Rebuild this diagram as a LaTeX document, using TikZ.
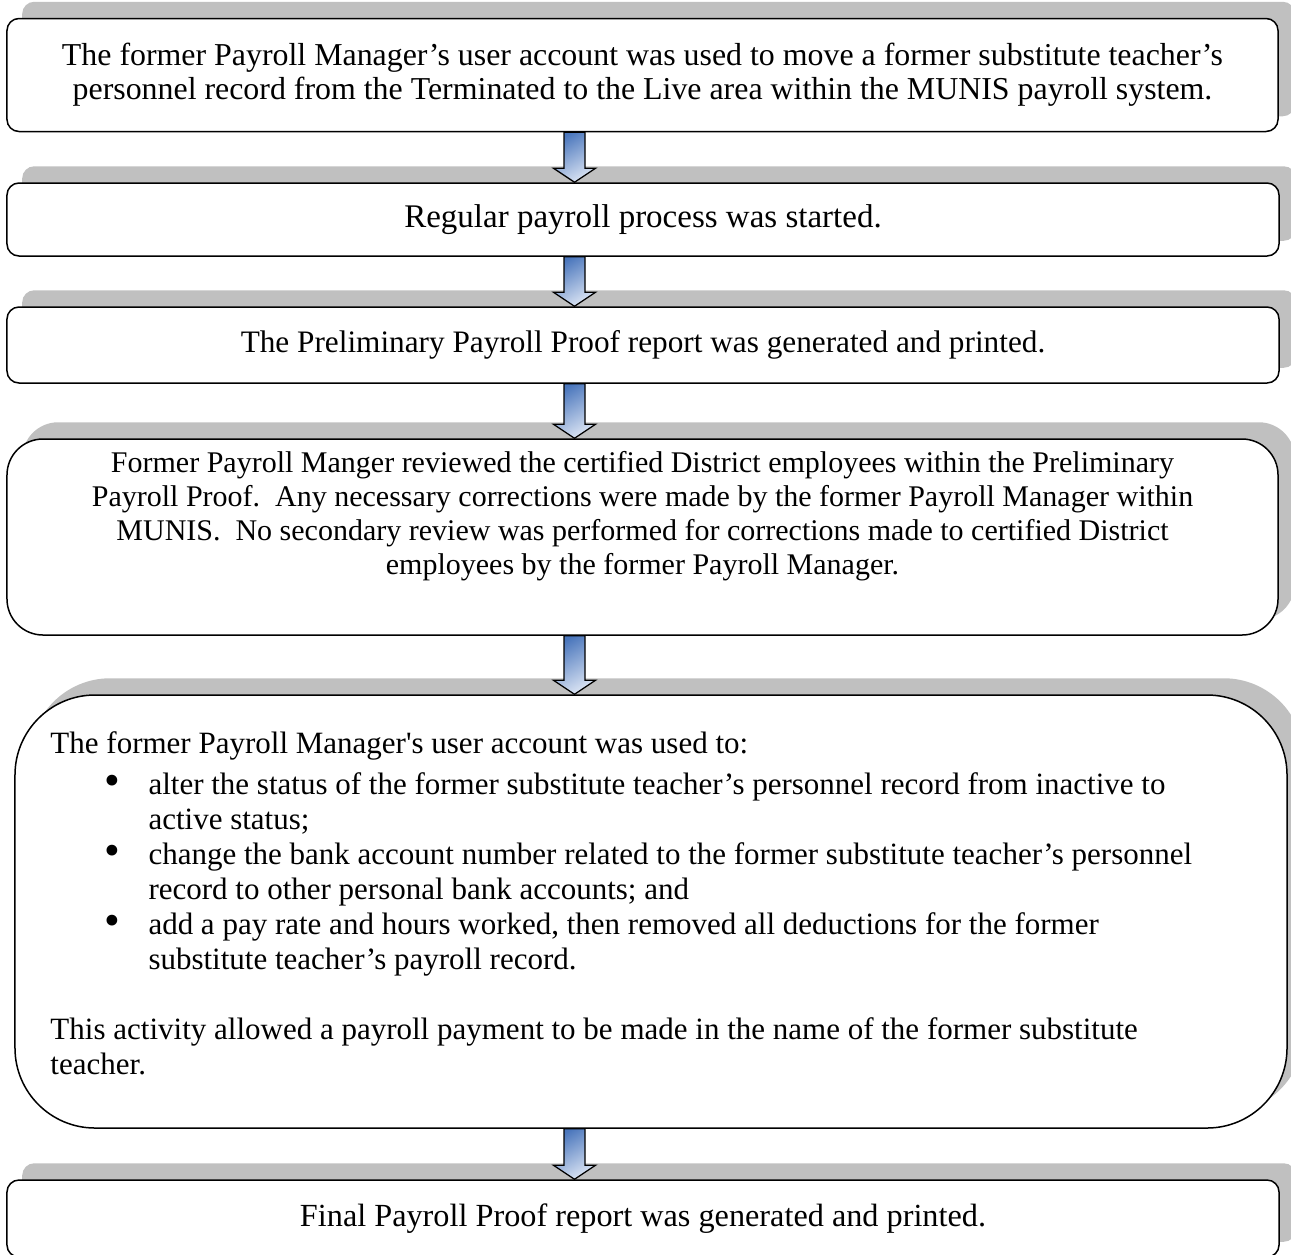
\documentclass[tikz,border=0pt]{standalone}
\usepackage{fontspec}
\usepackage{graphicx}
\setmainfont{Liberation Serif}
\usetikzlibrary{calc,backgrounds}
\definecolor{shadowgray}{HTML}{C0C0C0}
\definecolor{arrowdark}{HTML}{4A76BC}
\definecolor{arrowlight}{HTML}{DCE5F4}
\newcommand{\bigbul}{\makebox[17.6pt][l]{\raisebox{-0.6pt}{\scalebox{1.45}{\textbullet}}}}
\begin{document}
\begin{tikzpicture}[x=0.4pt,y=-0.4pt,
  stepbox/.style={draw=black, line width=0.6pt, fill=white, rounded corners=#1, inner sep=0pt},
  shadowfill/.style={fill=shadowgray, draw=none, rounded corners=#1},
  boxtext/.style={align=center},
  fatarrowstyle/.style={draw=black, line width=0.5pt, top color=arrowdark, bottom color=arrowlight, shading angle=30}]
\useasboundingbox (0,0) rectangle (1291,1254);
\clip (0,0) rectangle (1291,1254);

\node[stepbox=4.8pt, minimum width=508.4pt, minimum height=45.2pt, boxtext,
      font=\fontsize{12.75pt}{13.6pt}\selectfont] (b1) at (642.5,75)
  {The former Payroll Manager’s user account was used to move a former substitute teacher’s\\
   personnel record from the Terminated to the Live area within the MUNIS payroll system.};

\node[stepbox=4.8pt, minimum width=508.8pt, minimum height=29.2pt, boxtext,
      font=\fontsize{13.2pt}{14pt}\selectfont] (b2) at (643,219.5)
  {Regular payroll process was started.};

\node[stepbox=4.8pt, minimum width=508.8pt, minimum height=30.4pt, boxtext,
      font=\fontsize{12.5pt}{14pt}\selectfont] (b3) at (643,345)
  {The Preliminary Payroll Proof report was generated and printed.};

\node[stepbox=14.4pt, minimum width=508.4pt, minimum height=78.4pt] (b4) at (642.5,537) {};
\node[boxtext, inner sep=0pt, font=\fontsize{12pt}{13.6pt}\selectfont] (t4) at (642.5,516)
  {Former Payroll Manger reviewed the certified District employees within the Preliminary\\
   Payroll Proof.\ \ Any necessary corrections were made by the former Payroll Manager within\\
   MUNIS.\ \ No secondary review was performed for corrections made to certified District\\
   employees by the former Payroll Manager.};

\node[stepbox=32pt, minimum width=508.8pt, minimum height=173.2pt] (b5) at (651,911.5) {};
\node[font=\fontsize{12.4pt}{14pt}\selectfont, align=left, inner sep=0pt, anchor=north west] (t5) at (50,731)
  {The former Payroll Manager\textquotesingle s user account was used to:\\[2.4pt]
   \hspace*{21.6pt}\bigbul alter the status of the former substitute teacher’s personnel record from inactive to\\
   \hspace*{39.2pt}active status;\\
   \hspace*{21.6pt}\bigbul change the bank account number related to the former substitute teacher’s personnel\\
   \hspace*{39.2pt}record to other personal bank accounts; and\\
   \hspace*{21.6pt}\bigbul add a pay rate and hours worked, then removed all deductions for the former\\
   \hspace*{39.2pt}substitute teacher’s payroll record.\\[14pt]
   This activity allowed a payroll payment to be made in the name of the former substitute\\
   teacher.};

\node[stepbox=4.8pt, minimum width=508.8pt, minimum height=30.8pt, boxtext,
      font=\fontsize{12.9pt}{14pt}\selectfont] (b6) at (643,1218.5)
  {Final Payroll Proof report was generated and printed.};

\begin{scope}[on background layer]
  \foreach \n/\r in {b1/4.8pt,b2/4.8pt,b3/4.8pt,b4/14.4pt,b5/32pt,b6/4.8pt}{
    \fill[shadowfill=\r] ($(\n.south west)+(16,-16)$) rectangle ($(\n.north east)+(16,-16)$);
  }
\end{scope}

\coordinate (ax) at (574.5,0);
\foreach \a/\b in {b1/b2,b2/b3,b3/b4,b4/b5,b5/b6}{
  \draw[fatarrowstyle] let \p1=(\a.south -| ax), \p2=(\b.north -| ax) in
    (\x1-4.2pt,\y1) -- (\x1-4.2pt,\y2+5.6pt) -- (\x1-8.4pt,\y2+5.6pt) -- (\x1,\y2)
    -- (\x1+8.4pt,\y2+5.6pt) -- (\x1+4.2pt,\y2+5.6pt) -- (\x1+4.2pt,\y1) -- cycle;
}
\end{tikzpicture}
\end{document}
